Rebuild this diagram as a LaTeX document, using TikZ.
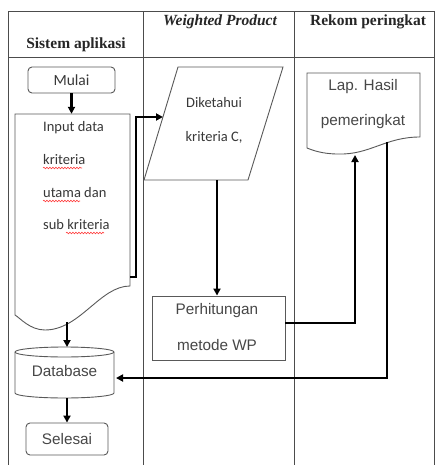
\documentclass[tikz,border=0pt]{standalone}
\usepackage{fontspec}
\setmainfont{Liberation Serif}
\newfontfamily\carl{Carlito}
\newfontfamily\arl{Liberation Sans}
\usetikzlibrary{arrows.meta,decorations.pathmorphing}
\begin{document}
\begin{tikzpicture}[x=1pt,y=-1pt,
  grid/.style={draw=black!70,line width=1pt},
  shp/.style={draw=black!65,line width=0.9pt,fill=white},
  conn/.style={draw=black,line width=2.2pt,-{Triangle[length=7pt,width=7pt]}},
  hdr/.style={font=\fontsize{15.5}{18}\selectfont\bfseries,text=black!85},
  ctxt/.style={font=\carl\fontsize{14.5}{17}\selectfont,text=black!78,inner sep=0pt},
  atxt/.style={font=\arl\fontsize{15.3}{18}\selectfont,text=black!72,inner sep=0pt},
  squig/.style={draw=red!75,line width=0.6pt,decorate,decoration={snake,amplitude=0.8pt,segment length=3pt}}
]
\useasboundingbox (0,0) rectangle (435,465);
\fill[white] (0,0) rectangle (435,465);
% table
\draw[grid] (8,465) -- (8,12) -- (434,12) -- (434,465);
\draw[grid] (8,58) -- (434,58);
\draw[grid] (143,12) -- (143,465);
\draw[grid] (294,12) -- (294,465);
\node[hdr] (h1) at (76,45) {Sistem aplikasi};
\node[hdr] (h2) at (220,22) {\itshape Weighted Product};
\node[hdr] (h3) at (368,22) {Rekom peringkat};

% Mulai
\node[shp,rounded corners=4pt,minimum width=87pt,minimum height=26pt,font=\carl\fontsize{15.5}{18}\selectfont,text=black!78] (mulai) at (71.5,80) {Mulai};

% Input document
\node[minimum width=115pt,minimum height=211pt,inner sep=0pt] (input) at (72.5,219.5) {};
\draw[shp] (15,114) -- (130,114) -- (130,286) .. controls (100,286) and (80,330) .. (45,330) .. controls (30,330) and (20,318) .. (15,315) -- cycle;
\node[ctxt,anchor=west] (t1) at (43,128) {Input data};
\node[ctxt,anchor=west] (t2) at (43,160) {kriteria};
\node[ctxt,anchor=west] (t3) at (43,193) {utama dan};
\node[ctxt,anchor=west] (t4) at (43,225) {sub kriteria};
\draw[squig] (43,168) -- (82,168);
\draw[squig] (43,201) -- (80,201);
\draw[squig] (66,233) -- (104,233);

% Parallelogram
\node[minimum width=139pt,minimum height=113pt,inner sep=0pt] (para) at (213.5,123.5) {};
\draw[shp] (178,67) -- (283,67) -- (248,180) -- (144,180) -- cycle;
\node[ctxt] (d1) at (214,103) {Diketahui};
\node[ctxt] (d2) at (214,137) {kriteria C,};

% Perhitungan
\node[shp,minimum width=133pt,minimum height=64pt,inner sep=0pt] (perh) at (218.5,328) {};
\node[atxt] (p1) at (217,311) {Perhitungan};
\node[atxt] (p2) at (217,345) {metode WP};

% Lap doc
\node[minimum width=113pt,minimum height=80pt,inner sep=0pt] (lap) at (363.5,113) {};
\draw[shp] (307,73) -- (420,73) -- (420,137) .. controls (385,137) and (370,155) .. (338,154) .. controls (322,154) and (312,150) .. (307,148) -- cycle;
\node[atxt] (l1) at (363,87) {Lap. Hasil};
\node[atxt] (l2) at (363,122) {pemeringkat};

% Database cylinder
\node[minimum width=99pt,minimum height=51pt,inner sep=0pt] (db) at (64.5,372.5) {};
\draw[shp] (15,352) -- (15,393) arc[start angle=180,end angle=360,x radius=49.5pt,y radius=5pt] -- (114,352) arc[start angle=0,end angle=180,x radius=49.5pt,y radius=5pt] -- cycle;
\draw[shp,fill=none] (15,352) arc[start angle=180,end angle=360,x radius=49.5pt,y radius=5pt];
\node[atxt] (dbt) at (64.5,371) {Database};

% Selesai
\node[shp,rounded corners=4pt,minimum width=82pt,minimum height=32pt,font=\arl\fontsize{15.3}{18}\selectfont,text=black!72] (selesai) at (67,439) {Selesai};

% coordinates
\coordinate (inR) at (130,277);
\coordinate (paraL) at (163,117);
\coordinate (inB) at (67,322);
\coordinate (lapB) at (355,155);
\coordinate (lapR) at (387,142);
\coordinate (dbR) at (116,378);

% connectors
\draw[conn] (mulai.south) -- (mulai.south |- input.north);
\draw[conn] (inR) -- (136,277) -- (136,117) -- (paraL);
\draw[conn] (217,180) -- (perh.north -| 217,0);
\draw[conn] (perh.east |- 0,323) -- (355,323) -- (lapB);
\draw[conn] (lapR) -- (387,378) -- (dbR);
\draw[conn] (inB) -- (67,347);
\draw[conn] (67,398) -- (selesai.north -| 67,0);
\end{tikzpicture}
\end{document}
